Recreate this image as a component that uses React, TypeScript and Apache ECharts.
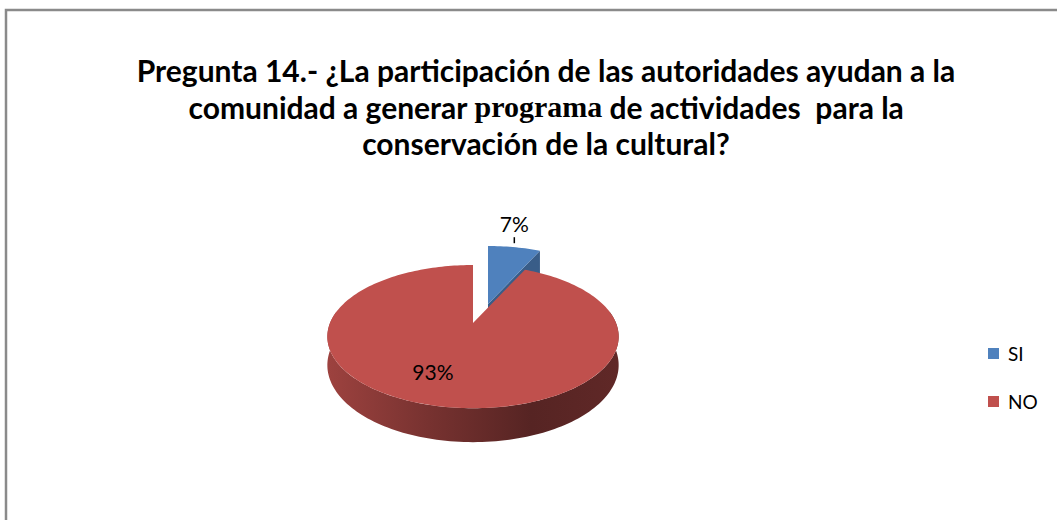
import React, { useEffect, useRef } from "react";
import * as echarts from "echarts";

// ---- data ----
const categories: string[] = ["SI", "NO"];
const values: number[] = [7, 93];
const sliceColors: string[] = ["#4F81BD", "#C0504D"];
const titleLines: string[] = [
  "Pregunta 14.- ¿La participación de las autoridades ayudan a la",
  "comunidad a generar {p|programa} de actividades  para la",
  "conservación de la cultural?",
];

// ---- 3D pie geometry (style) ----
const CX = 473;
const CY = 323;
const A = 143;
const B = 69;
const K = 0.19;
const H = 27.5;
const explodeOffsets: number[][] = [
  [15, -19],
  [0, 0],
];
const DEG = Math.PI / 180;

function proj(theta: number, r: number, z: number, off: number[]): number[] {
  const u = r * Math.sin(theta);
  const v = r * Math.cos(theta);
  const w = 1 + K * v;
  return [CX + off[0] + (A * u) / w, CY + off[1] + (-B * v + H * z) / w];
}

function arcPoints(a0: number, a1: number, z: number, off: number[]): number[][] {
  const pts: number[][] = [];
  const n = Math.max(2, Math.ceil((a1 - a0) / (1.5 * DEG)));
  for (let i = 0; i <= n; i++) {
    pts.push(proj(a0 + ((a1 - a0) * i) / n, 1, z, off));
  }
  return pts;
}

function darken(hex: string, f: number): string {
  const n = parseInt(hex.slice(1), 16);
  const r = Math.round(((n >> 16) & 255) * f);
  const g = Math.round(((n >> 8) & 255) * f);
  const b = Math.round((n & 255) * f);
  return "rgb(" + r + "," + g + "," + b + ")";
}

export default function App() {
  const ref = useRef<HTMLDivElement>(null);

  useEffect(() => {
    if (!ref.current) return;
    const chart = echarts.init(ref.current, undefined, { renderer: "svg" });
    const total = values.reduce((s, v) => s + v, 0);
    const starts: number[] = [];
    let acc = 0;
    values.forEach((v) => {
      starts.push((acc / total) * 2 * Math.PI);
      acc += v;
    });

    const series = categories.map((name, i) => ({
      type: "custom",
      name,
      coordinateSystem: "none",
      silent: true,
      itemStyle: { color: sliceColors[i] },
      data: [values[i]],
      renderItem: (params: any, api: any) => {
        const val = api.value(0) as number;
        const a0 = starts[i];
        const a1 = a0 + (val / total) * 2 * Math.PI;
        const off = explodeOffsets[i];
        const color = sliceColors[i];
        const children: any[] = [];

        // outer wall (front part)
        const lo = Math.max(a0, 80 * DEG);
        const hi = Math.min(a1, 280 * DEG);
        if (hi > lo) {
          const top = arcPoints(lo, hi, 0, off);
          const bot = arcPoints(lo, hi, 1, off).reverse();
          children.push({
            type: "polygon",
            shape: { points: top.concat(bot) },
            style: {
              fill: new echarts.graphic.LinearGradient(1, 0, 0, 0, [
                { offset: 0, color: darken(color, 0.5) },
                { offset: 0.3, color: darken(color, 0.45) },
                { offset: 0.65, color: darken(color, 0.62) },
                { offset: 1, color: darken(color, 0.82) },
              ]),
            },
          });
        }
        // radial faces
        if (Math.sin(a1) > 1e-6) {
          children.push({
            type: "polygon",
            shape: {
              points: [
                proj(a1, 0, 0, off),
                proj(a1, 1, 0, off),
                proj(a1, 1, 1, off),
                proj(a1, 0, 1, off),
              ],
            },
            style: { fill: darken(color, 0.72) },
          });
        }
        if (-Math.sin(a0) > 1e-6) {
          children.push({
            type: "polygon",
            shape: {
              points: [
                proj(a0, 0, 0, off),
                proj(a0, 1, 0, off),
                proj(a0, 1, 1, off),
                proj(a0, 0, 1, off),
              ],
            },
            style: { fill: darken(color, 0.72) },
          });
        }
        // top face
        children.push({
          type: "polygon",
          shape: { points: [proj(0, 0, 0, off)].concat(arcPoints(a0, a1, 0, off)) },
          style: { fill: color },
        });

        // label
        const pct = Math.round((val / total) * 100) + "%";
        const mid = (a0 + a1) / 2;
        if (val / total < 0.15) {
          const rim = proj(mid, 1, 0, off);
          children.push({
            type: "line",
            shape: { x1: rim[0], y1: rim[1] - 4, x2: rim[0], y2: rim[1] - 10 },
            style: { stroke: "#000", lineWidth: 1.5 },
          });
          children.push({
            type: "text",
            style: {
              text: pct,
              x: rim[0],
              y: rim[1] - 24,
              align: "center",
              verticalAlign: "middle",
              fontFamily: "Lato",
              fontSize: 21,
              fill: "#000",
            },
          });
        } else {
          const p = proj(mid, 0.6, 0, off);
          children.push({
            type: "text",
            style: {
              text: pct,
              x: p[0] - 19,
              y: p[1] + 3,
              align: "center",
              verticalAlign: "middle",
              fontFamily: "Lato",
              fontSize: 21,
              fill: "#000",
            },
          });
        }
        return { type: "group", children };
      },
    }));

    chart.setOption({
      animation: false,
      backgroundColor: "#ffffff",
      legend: {
        orient: "vertical",
        left: 983,
        top: 339,
        itemWidth: 11,
        itemHeight: 11,
        itemGap: 29,
        icon: "rect",
        data: categories,
        selectedMode: false,
        textStyle: {
          fontFamily: "Lato",
          fontSize: 19,
          color: "#000",
          padding: [0, 0, 0, 4],
        },
      },
      graphic: [
        {
          type: "rect",
          shape: { x: 6, y: 10, width: 1200, height: 700 },
          style: { fill: "none", stroke: "#8a8a8a", lineWidth: 2.5 },
          silent: true,
        },
        ...titleLines.map((t, li) => ({
          type: "text",
          x: 546,
          y: 70 + li * 36.5,
          silent: true,
          style: {
            text: t,
            x: 0,
            y: 0,
            align: "center",
            verticalAlign: "middle",
            fontFamily: "Lato",
            fontWeight: "bold",
            fontSize: 30,
            fill: "#000",
            rich: {
              p: {
                fontFamily: "Liberation Serif",
                fontWeight: "bold",
                fontSize: 30,
                fill: "#000",
                color: "#000",
              },
            },
          },
        })),
      ],
      series,
    });

    return () => {
      chart.dispose();
    };
  }, []);

  return (
    <div
      ref={ref}
      style={{ position: "absolute", left: 0, top: 0, width: 1057, height: 520 }}
    />
  );
}
